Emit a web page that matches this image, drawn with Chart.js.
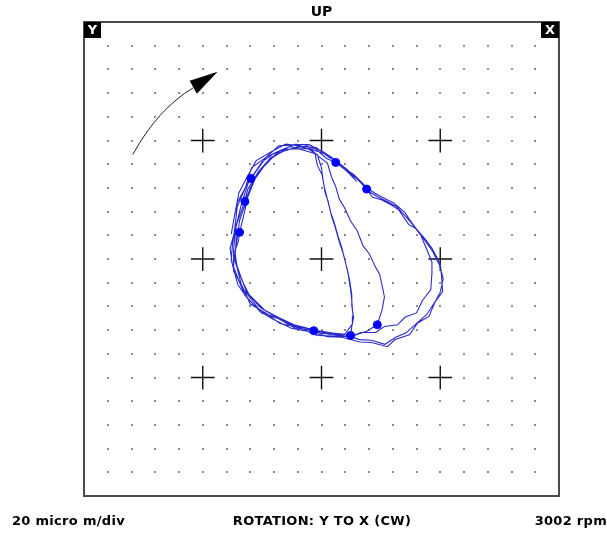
<!DOCTYPE html>
<html>
<head>
<meta charset="utf-8">
<title>Orbit</title>
<script src="https://cdn.jsdelivr.net/npm/chart.js@4/dist/chart.umd.min.js"></script>
<style>
  html, body { margin: 0; padding: 0; background: #fff; }
  #wrap { width: 607px; height: 538px; }
</style>
</head>
<body>
<div id="wrap"><canvas id="orbit" width="607" height="538"></canvas></div>
<script>
// shaft orbit, micro m (20 micro m per division, +-2 div shown), one row per turn
const orbitX = [
  -15.2, -14.6, -13.9, -12.6, -11.0, -8.6, -6.0, -3.2, -0.9, 1.2, 2.6, 4.9, 6.8, 8.6, 10.1, 12.0, 13.0, 14.7, 15.8, 17.5, 18.7, 19.9, 20.5, 20.0, 19.2, 17.7, 16.3, 14.2, 12.5, 10.7, 8.4, 6.4, 3.9, 1.2, -1.6, -4.6, -7.6, -10.3, -12.6, -14.1, -15.0, -15.4,
  -14.4, -13.5, -12.4, -11.1, -9.3, -7.0, -4.3, -2.1, -0.7, 0.0, 0.2, 0.6, 1.1, 1.7, 2.3, 3.0, 3.6, 4.3, 4.7, 5.1, 5.1, 5.4, 5.1, 4.9, 2.8, 0.0, -2.6, -5.0, -8.3, -10.3, -12.6, -13.5, -14.7, -14.3,
  -13.8, -13.0, -12.9, -11.8, -10.6, -8.6, -6.4, -3.8, -1.4, 0.8, 2.4, 4.2, 5.5, 7.7, 9.0, 11.2, 12.1, 14.0, 15.0, 16.7, 17.4, 18.6, 18.6, 18.4, 17.0, 16.0, 14.1, 12.8, 10.6, 9.1, 6.6, 4.7, 1.8, -1.3, -4.6, -7.2, -10.1, -11.8, -13.4, -14.2, -14.6,
  -14.0, -13.8, -13.0, -12.4, -11.2, -9.8, -7.6, -5.1, -2.4, -0.6, 1.0, 1.7, 2.4, 3.0, 3.9, 4.9, 6.0, 7.0, 8.1, 9.0, 9.8, 10.3, 10.6, 10.2, 9.4, 7.6, 4.9, 2.5, -0.8, -3.6, -7.0, -9.4, -12.0, -13.3, -14.8, -14.8,
  -14.5, -14.2, -12.8, -11.8, -9.3, -7.2, -4.2, -2.1, 0.4, 1.8, 4.2, 5.7, 8.0, 9.3, 11.6, 12.7, 14.5, 15.6, 17.5, 18.6, 20.0, 20.2, 20.4, 19.1, 18.1, 16.2, 14.8, 12.4, 11.1, 8.4, 6.5, 3.4, 1.0, -2.4, -5.1, -8.3, -10.4, -12.9, -13.9, -15.2, -15.0,
  -14.5, -14.2, -12.8, -11.9, -10.0, -8.2, -5.3, -3.2, -1.1, -0.7, 0.1, 0.5, 0.9, 1.5, 2.1, 2.8, 3.4, 4.1, 4.5, 4.9, 5.1, 5.3, 5.2, 3.9, 1.9, -1.3, -4.0, -7.4, -9.6, -12.2,
  -13.3, -14.6, -14.4, -14.4, -13.1, -12.4, -10.6, -9.0, -6.1, -3.9, -1.0, 0.8, 2.4, 3.8, 4.6, 5.9
];
const orbitY = [
  4.2, 7.6, 11.2, 13.7, 16.6, 18.0, 19.4, 19.0, 18.8, 17.2, 16.4, 14.3, 12.9, 10.4, 10.0, 9.0, 8.3, 5.8, 5.2, 3.0, 1.3, -1.1, -3.3, -5.6, -7.1, -9.4, -10.6, -12.5, -13.2, -14.4, -13.7, -13.6, -12.8, -12.7, -11.8, -11.3, -9.9, -8.9, -6.5, -4.3, -1.0, 1.8,
  5.4, 9.2, 12.7, 14.7, 17.2, 18.3, 19.4, 18.5, 17.6, 15.4, 13.8, 11.2, 9.8, 7.2, 5.4, 2.9, 1.1, -1.6, -3.4, -6.0, -7.9, -9.9, -11.4, -12.9, -12.6, -12.6, -11.6, -11.0, -9.4, -8.2, -5.6, -3.2, 0.2, 2.8,
  6.5, 8.8, 9.7, 12.4, 14.6, 17.1, 18.2, 19.0, 18.4, 17.7, 16.3, 15.1, 14.2, 12.0, 11.1, 9.9, 9.5, 7.9, 6.4, 4.1, 2.4, -0.5, -2.4, -5.2, -7.0, -9.1, -9.8, -11.1, -11.4, -12.4, -12.4, -13.2, -12.7, -12.1, -11.6, -10.1, -9.1, -6.8, -4.8, -1.5, 1.3,
  3.0, 4.5, 7.8, 10.5, 13.5, 15.5, 17.8, 18.6, 19.1, 17.4, 16.2, 13.8, 12.2, 10.1, 8.6, 6.4, 4.8, 2.2, 0.8, -1.2, -2.6, -4.9, -6.4, -8.6, -11.1, -12.2, -13.1, -13.0, -12.9, -11.6, -10.9, -9.1, -7.6, -4.7, -2.1, 1.5,
  5.6, 9.5, 12.1, 15.4, 17.2, 19.1, 19.3, 19.3, 18.0, 17.1, 15.2, 13.8, 11.4, 10.6, 9.4, 8.8, 6.8, 5.5, 3.3, 1.8, -0.8, -2.7, -5.5, -7.3, -9.7, -10.8, -12.8, -13.6, -14.8, -14.1, -14.0, -13.2, -13.1, -12.2, -11.7, -10.1, -8.8, -6.1, -3.7, -0.3, 2.4,
  6.0, 8.8, 12.1, 13.6, 16.4, 17.7, 19.0, 18.4, 17.8, 15.8, 14.2, 12.0, 10.5, 8.0, 6.3, 3.8, 2.0, -0.8, -2.6, -5.2, -7.0, -9.6, -11.0, -12.7, -12.5, -12.0, -11.4, -9.8, -8.6, -6.0,
  -3.8, -0.4, 2.8, 5.6, 9.2, 11.8, 14.8, 16.6, 18.5, 18.6, 18.6, 17.0, 16.3, 15.2, 14.5, 13.1
];

// once-per-turn keyphasor marks
const keyX = [2.4, 7.6, -11.9, -12.9, -13.8, -1.3, 4.9, 9.4];
const keyY = [16.3, 11.8, 13.6, 9.7, 4.5, -12.1, -12.9, -11.1];

const titleText = 'UP';
const scaleText = '20 micro m/div';
const rotationText = 'ROTATION: Y TO X (CW)';
const speedText = '3002 rpm';
const axisLabels = ['Y', 'X'];

const RANGE = 40;   // +-2 divisions
const DIV = 20;
const DOT = 4;      // fine grid step

const orbitPoints = orbitX.map((x, i) => ({ x: x, y: orbitY[i] }));
const keyPoints = keyX.map((x, i) => ({ x: x, y: keyY[i] }));

const FONT = '"DejaVu Sans", "Liberation Sans", sans-serif';

// dotted grid, division crosses and the rotation arrow under the trace
const backdrop = {
  id: 'backdrop',
  beforeDatasetsDraw(chart) {
    const c = chart.ctx;
    const xs = chart.scales.x, ys = chart.scales.y;
    c.save();
    c.fillStyle = '#8c8c8c';
    for (let gx = -RANGE + DOT; gx < RANGE; gx += DOT) {
      for (let gy = -RANGE + DOT; gy < RANGE; gy += DOT) {
        if (gx % DIV === 0 && gy % DIV === 0) continue;
        const px = Math.round(xs.getPixelForValue(gx));
        const py = Math.round(ys.getPixelForValue(gy));
        c.fillRect(px - 1, py - 1, 2, 2);
      }
    }
    c.strokeStyle = '#111';
    c.lineWidth = 1.4;
    const arm = xs.getPixelForValue(2) - xs.getPixelForValue(0);
    for (let gx = -DIV; gx <= DIV; gx += DIV) {
      for (let gy = -DIV; gy <= DIV; gy += DIV) {
        const px = xs.getPixelForValue(gx), py = ys.getPixelForValue(gy);
        c.beginPath();
        c.moveTo(px - arm, py); c.lineTo(px + arm, py);
        c.moveTo(px, py - arm); c.lineTo(px, py + arm);
        c.stroke();
      }
    }
    // rotation arrow
    const P = (x, y) => [xs.getPixelForValue(x), ys.getPixelForValue(y)];
    const a0 = P(-31.8, 17.6), ac = P(-27.6, 25.3), a1 = P(-21.6, 28.9);
    c.strokeStyle = '#222';
    c.lineWidth = 1;
    c.beginPath();
    c.moveTo(a0[0], a0[1]);
    c.quadraticCurveTo(ac[0], ac[1], a1[0], a1[1]);
    c.stroke();
    const t = P(-17.5, 31.6), h1 = P(-22.2, 30.1), h2 = P(-21.0, 27.9);
    c.fillStyle = '#000';
    c.beginPath();
    c.moveTo(t[0], t[1]); c.lineTo(h1[0], h1[1]); c.lineTo(h2[0], h2[1]);
    c.closePath();
    c.fill();
    c.restore();
  }
};

// frame, corner probe labels and captions
const frame = {
  id: 'frame',
  afterDraw(chart) {
    const c = chart.ctx;
    const a = chart.chartArea;
    c.save();
    c.strokeStyle = '#4a4a4a';
    c.lineWidth = 2;
    c.strokeRect(a.left, a.top, a.right - a.left, a.bottom - a.top);

    c.fillStyle = '#000';
    c.fillRect(a.left, a.top, 17, 16);
    c.fillRect(a.right - 18, a.top, 18, 16);
    c.fillStyle = '#fff';
    c.font = 'bold 13px ' + FONT;
    c.textAlign = 'center';
    c.textBaseline = 'middle';
    c.fillText(axisLabels[0], a.left + 8.5, a.top + 8.5);
    c.fillText(axisLabels[1], a.right - 9, a.top + 8.5);

    c.fillStyle = '#000';
    c.font = 'bold 14px ' + FONT;
    c.fillText(titleText, (a.left + a.right) / 2, 12);

    c.font = 'bold 13px ' + FONT;
    c.letterSpacing = '0.3px';
    c.textAlign = 'left';
    c.fillText(scaleText, 12, 522);
    c.textAlign = 'center';
    c.fillText(rotationText, 322, 522);
    c.textAlign = 'right';
    c.fillText(speedText, 607, 522);
    c.restore();
  }
};

new Chart(document.getElementById('orbit').getContext('2d'), {
  type: 'scatter',
  data: {
    datasets: [{
      label: 'orbit',
      data: orbitPoints,
      showLine: true,
      borderColor: '#2b2bcc',
      borderWidth: 1.1,
      pointRadius: 0,
      tension: 0,
      order: 2
    }, {
      label: 'keyphasor',
      data: keyPoints,
      pointRadius: 4,
      pointBackgroundColor: '#0000ff',
      pointBorderColor: '#0000ff',
      order: 1
    }]
  },
  options: {
    responsive: false,
    animation: false,
    layout: { padding: { left: 84, right: 48, top: 22, bottom: 42 } },
    scales: {
      x: { type: 'linear', min: -RANGE, max: RANGE, display: false },
      y: { type: 'linear', min: -RANGE, max: RANGE, display: false }
    },
    plugins: {
      legend: { display: false },
      tooltip: { enabled: false }
    }
  },
  plugins: [backdrop, frame]
});
</script>
</body>
</html>
